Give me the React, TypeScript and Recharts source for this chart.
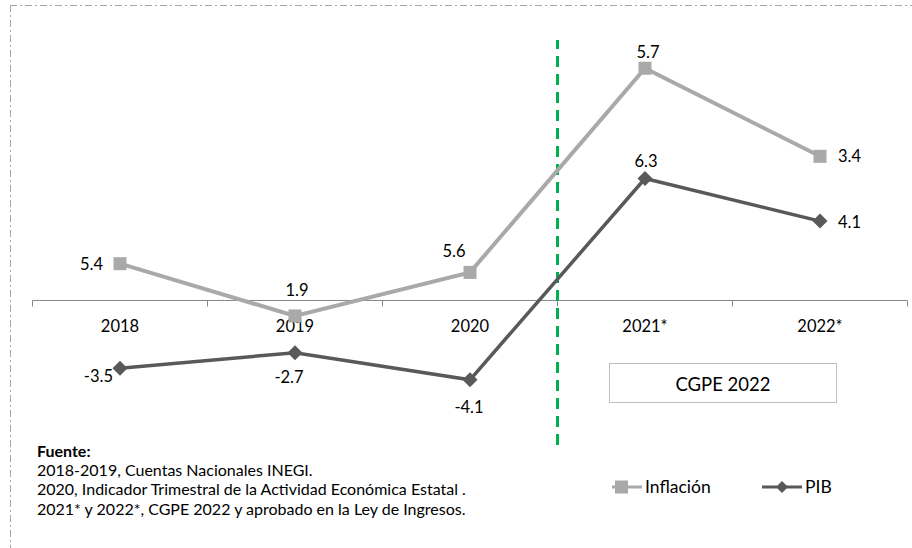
import React from "react";
import {
  ComposedChart,
  Line,
  Scatter,
  XAxis,
  YAxis,
  ReferenceLine,
} from "recharts";

// categorías del eje
const categorias = ["2018", "2019", "2020", "2021*", "2022*"];

// posición trazada de la línea de inflación (en el original no coincide con las etiquetas)
const inflacion = [1.9, -0.8, 1.45, 12.0, 7.45];
const inflacionEtiquetas = ["5.4", "1.9", "5.6", "5.7", "3.4"];

const pib = [-3.5, -2.7, -4.1, 6.3, 4.1];
const pibEtiquetas = ["-3.5", "-2.7", "-4.1", "6.3", "4.1"];

const fuente = [
  "2018-2019, Cuentas Nacionales INEGI.",
  "2020, Indicador Trimestral de la Actividad Económica Estatal .",
  "2021* y 2022*, CGPE 2022 y aprobado en la Ley de Ingresos.",
];

// colocación de cada etiqueta: [dx, dy, anchor]
const posInflacion: [number, number, string][] = [
  [-17, 6, "end"],
  [2, -20, "middle"],
  [-16, -15, "middle"],
  [3, -10, "middle"],
  [18, 6, "start"],
];
const posPib: [number, number, string][] = [
  [-7, 14, "end"],
  [-6, 30, "middle"],
  [-1, 33, "middle"],
  [1, -12, "middle"],
  [18, 7, "start"],
];

const GRIS_CLARO = "#a9a9a9";
const GRIS_OSCURO = "#595959";
const FONT = "Lato, 'Noto Sans', sans-serif";

const data = categorias.map((cat, i) => ({
  x: i,
  cat,
  inflacion: inflacion[i],
  pib: pib[i],
}));

const limites = [...categorias.map((_, i) => i - 0.5), categorias.length - 0.5];
const marcas = limites.map((x) => ({ x, y: 0 }));
const rotulos = categorias.map((cat, i) => ({ x: i, y: 0, cat }));

const Cuadro = (props: any) => {
  const { cx, cy } = props;
  if (cx == null || cy == null) return null;
  return <rect x={cx - 6.5} y={cy - 6.5} width={13} height={13} fill={GRIS_CLARO} />;
};

const Rombo = (props: any) => {
  const { cx, cy } = props;
  if (cx == null || cy == null) return null;
  const r = 7.5;
  return (
    <path
      d={`M${cx},${cy - r}L${cx + r},${cy}L${cx},${cy + r}L${cx - r},${cy}Z`}
      fill={GRIS_OSCURO}
    />
  );
};

const etiqueta = (textos: string[], pos: [number, number, string][]) => (props: any) => {
  const { x, y, index } = props;
  if (x == null || y == null) return null;
  const [dx, dy, anchor] = pos[index];
  return (
    <text
      x={x + dx}
      y={y + dy}
      textAnchor={anchor as any}
      fontSize={16.5}
      fontFamily={FONT}
      fill="#000"
    >
      {textos[index]}
    </text>
  );
};

export default function App() {
  return (
    <div
      style={{
        position: "absolute",
        left: 0,
        top: 0,
        width: 912,
        height: 548,
        background: "#fff",
        fontFamily: FONT,
      }}
    >
      <ComposedChart
        width={912}
        height={548}
        data={data}
        margin={{ top: 40, right: 4.5, bottom: 103, left: 32.5 }}
      >
        <XAxis dataKey="x" type="number" domain={[-0.5, 4.5]} hide />
        <YAxis type="number" domain={[-7.47, 13.46]} hide />
        <ReferenceLine y={0} stroke="#868686" strokeWidth={1} />
        <ReferenceLine
          x={2.5}
          stroke="#00b050"
          strokeWidth={3}
          strokeDasharray="11 7"
        />
        <Scatter
          data={marcas}
          dataKey="y"
          isAnimationActive={false}
          shape={(p: any) => (
            <line x1={p.cx} y1={p.cy} x2={p.cx} y2={p.cy + 6} stroke="#868686" strokeWidth={1} />
          )}
        />
        <Scatter
          data={rotulos}
          dataKey="y"
          isAnimationActive={false}
          shape={(p: any) => (
            <text
              x={p.cx}
              y={p.cy + 31.5}
              textAnchor="middle"
              fontSize={16.5}
              fontFamily={FONT}
              fill="#000"
            >
              {p.payload.cat}
            </text>
          )}
        />
        <Line
          dataKey="inflacion"
          stroke={GRIS_CLARO}
          strokeWidth={4}
          dot={<Cuadro />}
          activeDot={false}
          label={etiqueta(inflacionEtiquetas, posInflacion)}
          isAnimationActive={false}
        />
        <Line
          dataKey="pib"
          stroke={GRIS_OSCURO}
          strokeWidth={3.5}
          dot={<Rombo />}
          activeDot={false}
          label={etiqueta(pibEtiquetas, posPib)}
          isAnimationActive={false}
        />
      </ComposedChart>

      <svg
        width={912}
        height={548}
        style={{ position: "absolute", left: 0, top: 0, pointerEvents: "none" }}
      >
        <line x1={10} y1={5.5} x2={912} y2={5.5} stroke="#a6a6a6" strokeDasharray="7 3 2 3" />
        <line x1={10.5} y1={5} x2={10.5} y2={548} stroke="#a6a6a6" strokeDasharray="7 3 2 3" />

        <rect x={609.5} y={363.5} width={227} height={39} fill="#fff" stroke="#bfbfbf" />
        <text x={723} y={391} textAnchor="middle" fontSize={18.5} fontFamily={FONT} fill="#000">
          CGPE 2022
        </text>

        <line x1={612} y1={487} x2={642} y2={487} stroke={GRIS_CLARO} strokeWidth={3} />
        <rect x={615} y={480.5} width={13} height={13} fill={GRIS_CLARO} />
        <text x={645} y={493} fontSize={17.5} fontFamily={FONT} fill="#000">
          Inflación
        </text>
        <line x1={762} y1={487} x2={802} y2={487} stroke={GRIS_OSCURO} strokeWidth={3} />
        <path d="M782,481L788,487L782,493L776,487Z" fill={GRIS_OSCURO} />
        <text x={805} y={493} fontSize={17.5} fontFamily={FONT} fill="#000">
          PIB
        </text>

        <text x={37} y={457} fontSize={16} fontWeight="bold" fontFamily={FONT} fill="#000">
          Fuente:
        </text>
        {fuente.map((t, i) => (
          <text key={i} x={37} y={476 + i * 19.3} fontSize={16} fontFamily={FONT} fill="#000">
            {t}
          </text>
        ))}
      </svg>
    </div>
  );
}
